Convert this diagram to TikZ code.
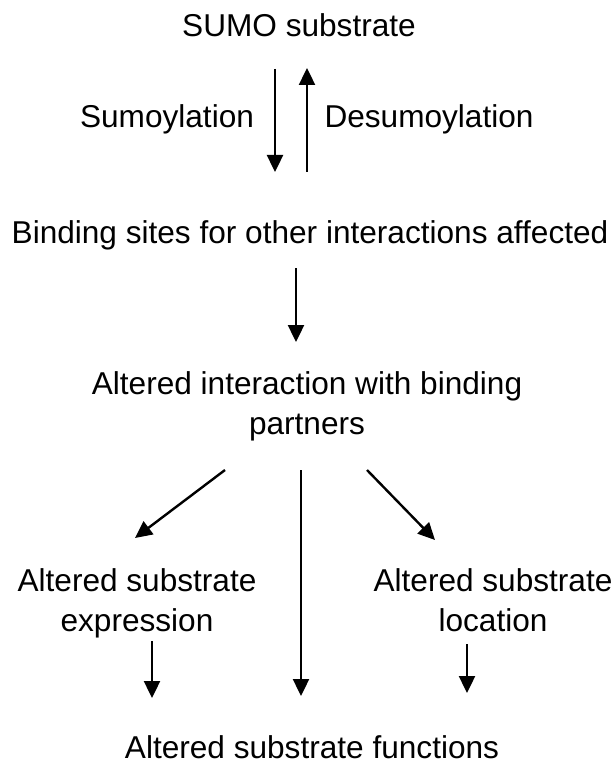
\documentclass[tikz,border=0pt]{standalone}
\usepackage{fontspec}
\setmainfont{Liberation Sans}
\usetikzlibrary{arrows.meta}
\begin{document}
\begin{tikzpicture}[x=1pt,y=-1pt,
  lbl/.style={inner sep=0pt,font=\fontsize{31.6}{40}\selectfont,anchor=base},
  lbl2/.style={inner sep=0pt,font=\fontsize{31.6}{40}\selectfont,align=center,anchor=north},
  arr/.style={line width=2.4pt,-{Triangle[width=16pt,length=17pt]}}]
\useasboundingbox (0,0) rectangle (613,770);
\node[lbl] (sumo) at (299,36.5) {SUMO substrate};
\node[lbl] (sum) at (167,128) {Sumoylation};
\node[lbl] (desum) at (429,128) {Desumoylation};
\node[lbl] (bind) at (310,243) {Binding sites for other interactions affected};
\node[lbl2] (inter) at (307,371) {Altered interaction with binding\\partners};
\node[lbl2] (expr) at (137,568) {Altered substrate\\expression};
\node[lbl2] (loc) at (493,568) {Altered substrate\\location};
\node[lbl] (func) at (312,758) {Altered substrate functions};
\coordinate (a1s) at (275,69);  \coordinate (a1e) at (275,172);
\coordinate (a2s) at (307,172); \coordinate (a2e) at (307,68);
\coordinate (a3s) at (296,268); \coordinate (a3e) at (296,342);
\coordinate (a4s) at (225,470); \coordinate (a4e) at (135,538);
\coordinate (a5s) at (301,470); \coordinate (a5e) at (301,696);
\coordinate (a6s) at (367,470); \coordinate (a6e) at (435,540);
\coordinate (a7s) at (152,641); \coordinate (a7e) at (152,698);
\coordinate (a8s) at (467,644); \coordinate (a8e) at (467,693);
\draw[arr] (a1s) -- (a1e);
\draw[arr] (a2s) -- (a2e);
\draw[arr] (a3s) -- (a3e);
\draw[arr] (a4s) -- (a4e);
\draw[arr] (a5s) -- (a5e);
\draw[arr] (a6s) -- (a6e);
\draw[arr] (a7s) -- (a7e);
\draw[arr] (a8s) -- (a8e);
\end{tikzpicture}
\end{document}
